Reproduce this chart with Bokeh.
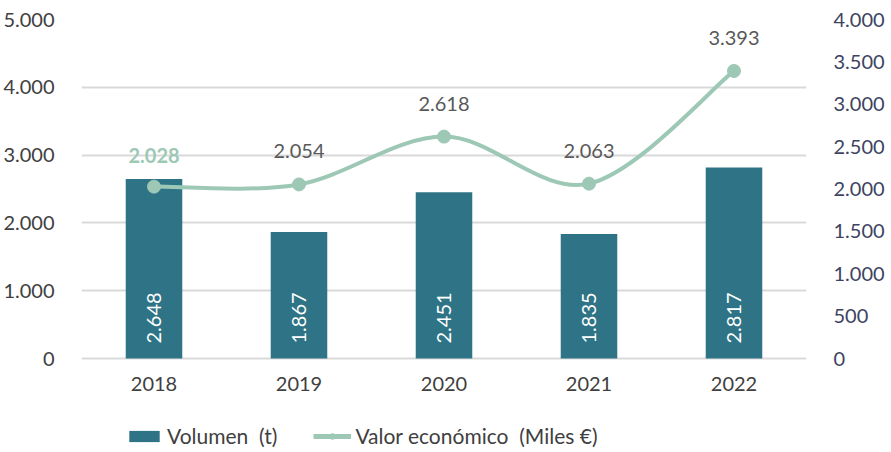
from bokeh.plotting import figure
from bokeh.models import (ColumnDataSource, Range1d, LinearAxis, FixedTicker,
                          Legend, LegendItem)
from bokeh.embed import file_html
from bokeh.resources import INLINE
from bokeh.core.properties import value

years = ["2018", "2019", "2020", "2021", "2022"]
volumen = [2648, 1867, 2451, 1835, 2817]
valor = [2028, 2054, 2618, 2063, 3393]
left_ticks = [0, 1000, 2000, 3000, 4000, 5000]
right_ticks = [0, 500, 1000, 1500, 2000, 2500, 3000, 3500, 4000]

FONT = "Lato"
FS = "20px"
BAR = "#2E7486"
LINE = "#9DC8B5"

PLOT_PX = 339      # pixel height of the value area (0 .. max)
FRAME_H = 430      # frame extends below zero to hold year labels and legend
LMAX, RMAX = left_ticks[-1], right_ticks[-1]
below = FRAME_H - PLOT_PX


def fmt(v):
    return f"{v:,}".replace(",", ".")


xs = list(range(len(years)))

p = figure(output_backend="svg", toolbar_location=None, x_axis_location=None,
           x_range=Range1d(-0.5, len(years) - 0.5),
           y_range=Range1d(-below * LMAX / PLOT_PX, LMAX),
           min_border_left=77, min_border_right=73, min_border_top=19,
           min_border_bottom=0, frame_width=725, frame_height=FRAME_H)
p.outline_line_color = None
p.extra_y_ranges = {"right": Range1d(-below * RMAX / PLOT_PX, RMAX)}

# left axis
p.yaxis.ticker = FixedTicker(ticks=left_ticks)
p.yaxis.major_label_overrides = {v: fmt(v) for v in left_ticks}
ax = p.yaxis[0]
ax.axis_line_color = None
ax.major_tick_line_color = None
ax.minor_tick_line_color = None
ax.major_label_text_font = FONT
ax.major_label_text_font_size = FS
ax.major_label_text_color = "#404040"
ax.major_label_standoff = 21

# right axis
raxis = LinearAxis(y_range_name="right", ticker=FixedTicker(ticks=right_ticks))
raxis.major_label_overrides = {v: fmt(v) for v in right_ticks}
raxis.axis_line_color = None
raxis.major_tick_line_color = None
raxis.minor_tick_line_color = None
raxis.major_label_text_font = FONT
raxis.major_label_text_font_size = FS
raxis.major_label_text_color = "#3D4461"
raxis.major_label_standoff = 21
p.add_layout(raxis, "right")

p.xgrid.grid_line_color = None
p.ygrid.grid_line_color = "#D9D9D9"
p.ygrid.grid_line_width = 2

# category labels
p.text(x=xs, y=[0] * len(xs), text=years, text_align="center",
       text_baseline="middle", y_offset=25, text_color="#404040",
       text_font=value(FONT), text_font_size=FS)

# bars
src = ColumnDataSource(dict(x=xs, v=volumen, lab=[fmt(v) for v in volumen]))
bars = p.vbar(x="x", top="v", width=0.39, source=src, fill_color=BAR, line_color=None)
p.text(x="x", y=0, text="lab", source=src, angle=1.5708, text_align="left",
       text_baseline="middle", y_offset=-15, text_color="white",
       text_font=value(FONT), text_font_size=FS)

# smoothed line via Catmull-Rom bezier segments
n = len(xs)
x0, y0, x1, y1, cx0, cy0, cx1, cy1 = [], [], [], [], [], [], [], []
for i in range(n - 1):
    im = max(i - 1, 0)
    ip = min(i + 2, n - 1)
    x0.append(xs[i]); y0.append(valor[i])
    x1.append(xs[i + 1]); y1.append(valor[i + 1])
    cx0.append(xs[i] + (xs[i + 1] - xs[im]) / 6)
    cy0.append(valor[i] + (valor[i + 1] - valor[im]) / 6)
    cx1.append(xs[i + 1] - (xs[ip] - xs[i]) / 6)
    cy1.append(valor[i + 1] - (valor[ip] - valor[i]) / 6)
p.bezier(x0=x0, y0=y0, x1=x1, y1=y1, cx0=cx0, cy0=cy0, cx1=cx1, cy1=cy1,
         line_color=LINE, line_width=4, y_range_name="right")
# legend-only line (a single NaN point draws nothing in the plot)
dummy = p.line(x=[float("nan")], y=[float("nan")], line_color=LINE, line_width=5,
               y_range_name="right")
pts = p.scatter(x=xs, y=valor, size=13, fill_color=LINE,
                line_color=LINE, y_range_name="right")

# value labels on the line (first one highlighted as in the original)
first = ColumnDataSource(dict(x=xs[:1], v=valor[:1], lab=[fmt(v) for v in valor[:1]]))
rest = ColumnDataSource(dict(x=xs[1:], v=valor[1:], lab=[fmt(v) for v in valor[1:]]))
p.text(x="x", y="v", text="lab", source=rest, y_range_name="right",
       text_align="center", text_baseline="middle", y_offset=-33,
       text_color="#595959", text_font=value(FONT), text_font_size=FS)
p.text(x="x", y="v", text="lab", source=first, y_range_name="right",
       text_align="center", text_baseline="middle", y_offset=-31,
       text_color=LINE, text_font_style="bold", text_font=value(FONT),
       text_font_size=FS)

legend = Legend(items=[LegendItem(label="Volumen  (t)", renderers=[bars]),
                       LegendItem(label="Valor económico  (Miles €)", renderers=[dummy, pts])],
                orientation="horizontal", location=(44, 1),
                label_text_font=FONT, label_text_font_size="21px",
                label_text_color="#404040", glyph_width=38, glyph_height=14,
                spacing=36, border_line_color=None, background_fill_alpha=0,
                padding=0, margin=0, label_standoff=4)
p.add_layout(legend, "center")

open("out.html", "w").write(file_html(p, INLINE))
